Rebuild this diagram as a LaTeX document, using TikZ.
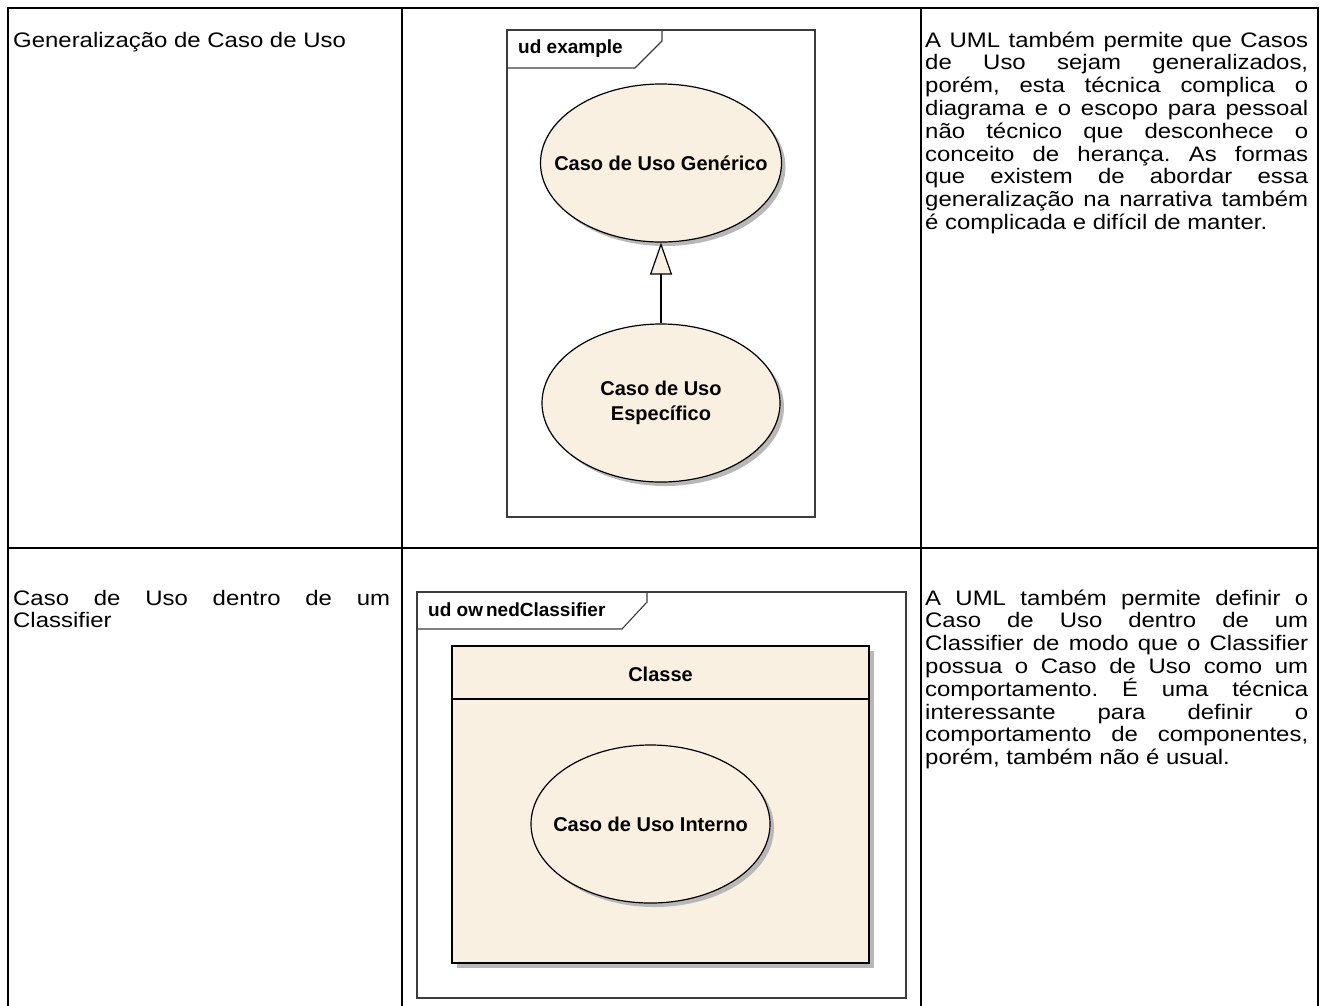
\documentclass[tikz,border=0pt]{standalone}
\usepackage{fontspec}
\setmainfont{Liberation Sans}[FakeStretch=1.14]
\newfontfamily\diagfont{Liberation Sans}
\usetikzlibrary{shapes.geometric,arrows.meta,shadows}
\definecolor{cream}{RGB}{250,240,225}
\definecolor{framegray}{RGB}{60,60,60}
\newcommand{\bodysize}{\fontsize{21pt}{22.8pt}\selectfont\frenchspacing}
\newcommand{\jl}[1]{\makebox[\linewidth][s]{#1}\\}
\begin{document}
\begin{tikzpicture}[x=1pt,y=-1pt,
  gridline/.style={line width=2.6pt,black},
  celltext/.style={anchor=base west,inner sep=0pt,font=\bodysize},
  uframe/.style={draw=framegray,line width=1.1pt},
  framelabel/.style={anchor=west,inner sep=0pt,font=\diagfont\bfseries\fontsize{19pt}{22pt}\selectfont},
  usecase/.style={ellipse,draw=black,line width=1.2pt,fill=cream,inner sep=0pt,
    general shadow={fill=black!28,shadow xshift=4pt,shadow yshift=-4pt}},
  uctext/.style={inner sep=0pt,align=center,font=\diagfont\bfseries\fontsize{20pt}{26pt}\selectfont},
  gen/.style={line width=1.2pt,-{Triangle[width=22pt,length=32pt,fill=cream]}}
]
\useasboundingbox (0,0) rectangle (1322,1005);
% table grid
\draw[gridline] (8,1012) -- (8,8) -- (1318,8) -- (1318,1012);
\draw[gridline] (402,8) -- (402,1012);
\draw[gridline] (921,8) -- (921,1012);
\draw[gridline] (8,548) -- (1318,548);

% row 1 texts
\node[celltext] (t1l) at (13,47) {Generaliza\c{c}\~ao de Caso de Uso};
\node[celltext] (t1r) at (925,47) {\parbox[t]{383pt}{\bodysize
\jl{A UML também permite que Casos}
\jl{de Uso sejam generalizados,}
\jl{porém, esta técnica complica o}
\jl{diagrama e o escopo para pessoal}
\jl{não técnico que desconhece o}
\jl{conceito de herança. As formas}
\jl{que existem de abordar essa}
\jl{generalização na narrativa também}
é complicada e difícil de manter.}};

% row 2 texts
\node[celltext] (t2l) at (13,605) {\parbox[t]{377pt}{\bodysize
\jl{Caso de Uso dentro de um}
Classifier}};
\node[celltext] (t2r) at (925,605) {\parbox[t]{383pt}{\bodysize
\jl{A UML também permite definir o}
\jl{Caso de Uso dentro de um}
\jl{Classifier de modo que o Classifier}
\jl{possua o Caso de Uso como um}
\jl{comportamento. É uma técnica}
\jl{interessante para definir o}
\jl{comportamento de componentes,}
porém, também não é usual.}};

% diagram 1
\draw[uframe] (507,30) rectangle (815,517);
\draw[uframe] (507,68) -- (635,68) -- (662,41) -- (662,30);
\node[framelabel] (lab1) at (518,49) {ud example};
\node[usecase,minimum width=241pt,minimum height=158pt] (gen) at (661,163) {};
\node[uctext] (gentx) at (gen.center) {Caso de Uso Genérico};
\node[usecase,minimum width=238pt,minimum height=158pt] (spec) at (661,403) {};
\node[uctext] (spectx) at (spec.center) {Caso de Uso\\[-1pt]Específico};
\draw[gen] (spec.north) -- (gen.south);

% diagram 2
\draw[uframe] (417,592) rectangle (906,998);
\draw[uframe] (417,629) -- (622,629) -- (647,602) -- (647,592);
\node[framelabel] (lab2) at (428,610) {ud ow\kern3pt nedClassifier};
\fill[black!28] (457,651) rectangle (874,968);
\draw[line width=1.2pt,fill=cream] (452,646) rectangle (869,963);
\node[uctext] (cls) at (660.5,674) {Classe};
\draw[line width=1.2pt] (452,699) -- (869,699);
\node[usecase,minimum width=239pt,minimum height=158pt] (int) at (650.5,824) {};
\node[uctext] (inttx) at (int.center) {Caso de Uso Interno};
\end{tikzpicture}
\end{document}
